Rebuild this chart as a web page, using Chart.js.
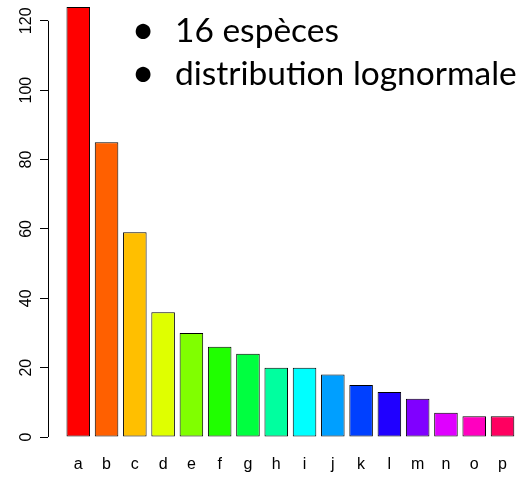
<!DOCTYPE html>
<html>
<head>
<meta charset="utf-8">
<script src="https://cdn.jsdelivr.net/npm/chart.js@4"></script>
<style>
  body { margin: 0; background: #fff; }
  canvas { display: block; }
</style>
</head>
<body>
<canvas id="especesChart" width="526" height="477"></canvas>
<script>
// données
const especes = ['a', 'b', 'c', 'd', 'e', 'f', 'g', 'h', 'i', 'j', 'k', 'l', 'm', 'n', 'o', 'p'];
const abondances = [124, 85, 59, 36, 30, 26, 24, 20, 20, 18, 15, 13, 11, 7, 6, 6];
const yTicks = [0, 20, 40, 60, 80, 100, 120];
const notes = ['16 espèces', 'distribution lognormale'];

// rainbow(16) de R
const couleurs = ['#FF0000', '#FF6000', '#FFBF00', '#DFFF00', '#80FF00', '#20FF00', '#00FF40', '#00FF9F',
    '#00FFFF', '#009FFF', '#0040FF', '#2000FF', '#8000FF', '#DF00FF', '#FF00BF', '#FF0060'];

// ligne de l'axe y, seulement de 0 a 120 comme dans R
const axeY = {
    id: 'axeY',
    afterDraw(chart) {
        const ctx = chart.ctx;
        const y = chart.scales.y;
        const x = chart.chartArea.left + 0.5;
        ctx.save();
        ctx.strokeStyle = '#000';
        ctx.lineWidth = 1;
        ctx.beginPath();
        ctx.moveTo(x, y.getPixelForValue(yTicks[0]));
        ctx.lineTo(x, y.getPixelForValue(yTicks[yTicks.length - 1]));
        ctx.stroke();
        ctx.restore();
    }
};

// texte a puces en haut
const puces = {
    id: 'puces',
    afterDraw(chart) {
        const ctx = chart.ctx;
        ctx.save();
        ctx.fillStyle = '#000';
        ctx.textBaseline = 'alphabetic';
        notes.forEach(function (t, i) {
            const base = 42 + i * 43;
            ctx.font = '40px Lato';
            ctx.textAlign = 'center';
            ctx.fillText('•', 143, base + 2);
            ctx.font = '33.5px Lato';
            ctx.textAlign = 'left';
            ctx.fillText(t, 175, base);
        });
        ctx.restore();
    }
};

const ctx = document.getElementById('especesChart').getContext('2d');
const especesChart = new Chart(ctx, {
    type: 'bar',
    data: {
        datasets: [{
            data: abondances.map(function (v, i) { return { x: i, y: v }; }),
            backgroundColor: couleurs,
            borderColor: '#000',
            borderWidth: 1,
            borderSkipped: false,
            categoryPercentage: 1,
            barPercentage: 0.833
        }]
    },
    options: {
        responsive: false,
        animation: false,
        layout: { padding: 0 },
        scales: {
            x: {
                type: 'linear',
                min: -1.07,
                max: 15.83,
                offset: false,
                border: { display: false },
                grid: { display: false, drawTicks: false, offset: false },
                ticks: {
                    stepSize: 1,
                    includeBounds: false,
                    padding: 18,
                    color: '#000',
                    font: { family: 'Liberation Sans', size: 16 },
                    maxRotation: 0,
                    autoSkip: false,
                    callback: function (value) {
                        return especes[value] !== undefined ? especes[value] : '';
                    }
                },
                afterFit: function (scale) {
                    scale.height = 40;
                    scale.paddingLeft = 0;
                    scale.paddingRight = 0;
                }
            },
            y: {
                min: 0,
                max: 126,
                border: { display: false },
                grid: {
                    drawOnChartArea: false,
                    drawTicks: true,
                    tickLength: 8,
                    color: '#000'
                },
                ticks: {
                    stepSize: 20,
                    includeBounds: false,
                    minRotation: 90,
                    maxRotation: 90,
                    crossAlign: 'center',
                    padding: 0,
                    color: '#000',
                    font: { family: 'Liberation Sans', size: 16 }
                },
                afterFit: function (scale) {
                    scale.width = 48;
                    scale.paddingTop = 0;
                    scale.paddingBottom = 0;
                }
            }
        },
        plugins: {
            legend: { display: false },
            tooltip: { enabled: false }
        }
    },
    plugins: [axeY, puces]
});
</script>
</body>
</html>
